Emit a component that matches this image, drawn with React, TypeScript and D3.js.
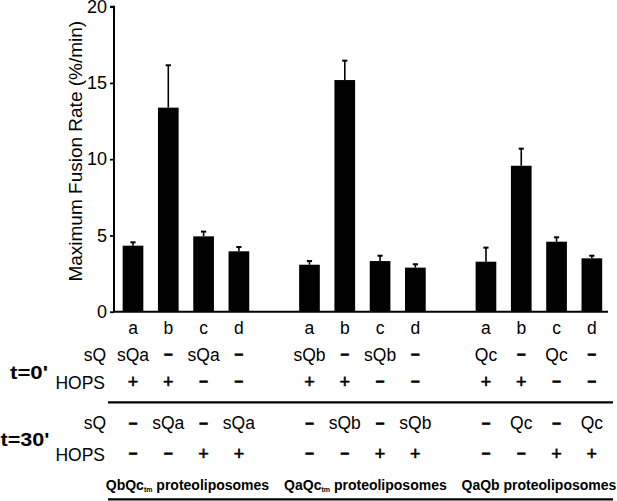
import React, { useEffect, useRef } from "react";
import * as d3 from "d3";

const groups = ["QbQc", "QaQc", "QaQb"];
const groupSub = ["tm", "tm", ""];
const letters = ["a", "b", "c", "d"];
const values = [4.33, 13.38, 4.94, 3.96, 3.08, 15.19, 3.32, 2.89, 3.28, 9.57, 4.59, 3.5];
const sems = [0.22, 2.78, 0.31, 0.28, 0.24, 1.27, 0.35, 0.22, 0.92, 1.12, 0.29, 0.17];
const yTicks = [0, 5, 10, 15, 20];
const t0sQ = ["sQa", "-", "sQa", "-", "sQb", "-", "sQb", "-", "Qc", "-", "Qc", "-"];
const t0HOPS = ["+", "+", "-", "-", "+", "+", "-", "-", "+", "+", "-", "-"];
const t30sQ = ["-", "sQa", "-", "sQa", "-", "sQb", "-", "sQb", "-", "Qc", "-", "Qc"];
const t30HOPS = ["-", "-", "+", "+", "-", "-", "+", "+", "-", "-", "+", "+"];

const FONT = "'Liberation Sans', Arial, Helvetica, sans-serif";
const W = 617;
const H = 501;

const slotOf = (i: number) => Math.floor(i / 4) * 5 + (i % 4);

export default function App() {
  const axisRef = useRef<SVGGElement>(null);

  const x = d3
    .scaleBand<number>()
    .domain(d3.range(14))
    .range([115.35, 609.5])
    .paddingInner(0.414)
    .paddingOuter(0.207);
  const y = d3.scaleLinear().domain([0, 20]).range([311.7, 6.7]);

  useEffect(() => {
    if (!axisRef.current) return;
    const g = d3.select(axisRef.current);
    g.selectAll("*").remove();
    g.call(
      d3
        .axisLeft(y)
        .tickValues(yTicks)
        .tickSize(4)
        .tickPadding(3)
        .tickFormat(d3.format("d"))
    );
    g.select(".domain").attr("stroke-width", 2).attr("d", `M-4,${y(20)}H0V${y(0)}`);
    g.selectAll(".tick line").attr("stroke-width", 1.8);
    g.selectAll(".tick text")
      .attr("font-size", 18)
      .attr("font-family", FONT)
      .attr("fill", "#000");
  }, []);

  const cx = (i: number) => (x(slotOf(i)) as number) + x.bandwidth() / 2;

  const renderRow = (vals: string[], baseline: number, center: number, key: string) =>
    vals.map((v, i) =>
      v === "-" ? (
        <text
          key={key + i}
          x={cx(i)}
          y={center + 4.3}
          textAnchor="middle"
          fontSize={15.5}
          fontWeight="bold"
          stroke="#000"
          strokeWidth={0.7}
        >
          –
        </text>
      ) : v === "+" ? (
        <text
          key={key + i}
          x={cx(i)}
          y={center + 6.4}
          textAnchor="middle"
          fontSize={18}
          stroke="#000"
          strokeWidth={0.6}
        >
          +
        </text>
      ) : (
        <text key={key + i} x={cx(i)} y={baseline} textAnchor="middle" fontSize={17.5}>
          {v}
        </text>
      )
    );

  return (
    <svg
      width={W}
      height={H}
      style={{ position: "absolute", left: 0, top: 0, background: "#fff" }}
      fontFamily={FONT}
      fill="#000"
    >
      {/* bars */}
      {values.map((v, i) => (
        <rect
          key={"bar" + i}
          x={x(slotOf(i))}
          y={y(v)}
          width={x.bandwidth()}
          height={y(0) - y(v)}
          fill="#000"
        />
      ))}
      {/* error bars */}
      {values.map((v, i) => (
        <g key={"err" + i} stroke="#000">
          <line x1={cx(i)} x2={cx(i)} y1={y(v)} y2={y(v + sems[i])} strokeWidth={1.6} />
          <line
            x1={cx(i) - 2.6}
            x2={cx(i) + 2.6}
            y1={y(v + sems[i])}
            y2={y(v + sems[i])}
            strokeWidth={2}
          />
        </g>
      ))}
      {/* x axis line */}
      <line x1={114} x2={608} y1={y(0)} y2={y(0)} stroke="#000" strokeWidth={2} />
      <g ref={axisRef} transform="translate(114,0)" />
      {/* y label */}
      <text
        transform={`translate(81.5,${(y(0) + y(20)) / 2 - 8}) rotate(-90)`}
        textAnchor="middle"
        fontSize={19}
      >
        Maximum Fusion Rate (%/min)
      </text>

      {/* category letters */}
      {values.map((_, i) => (
        <text key={"l" + i} x={cx(i)} y={334} textAnchor="middle" fontSize={17.5}>
          {letters[i % 4]}
        </text>
      ))}

      {/* row labels */}
      <text x={10} y={378.5} fontSize={18} fontWeight="bold" textLength={38} lengthAdjust="spacingAndGlyphs">
        t=0'
      </text>
      <text x={0.5} y={446} fontSize={18} fontWeight="bold" textLength={49} lengthAdjust="spacingAndGlyphs">
        t=30'
      </text>
      <text x={106} y={361} textAnchor="end" fontSize={17.5}>sQ</text>
      <text x={105} y={389} textAnchor="end" fontSize={17.5}>HOPS</text>
      <text x={106} y={429} textAnchor="end" fontSize={17.5}>sQ</text>
      <text x={105} y={460.5} textAnchor="end" fontSize={17.5}>HOPS</text>

      {renderRow(t0sQ, 361, 355, "a")}
      {renderRow(t0HOPS, 389, 381.6, "b")}
      {renderRow(t30sQ, 429, 423.3, "c")}
      {renderRow(t30HOPS, 460.5, 454, "d")}

      <line x1={108} x2={613} y1={402.3} y2={402.3} stroke="#000" strokeWidth={2.2} />
      <line x1={108} x2={613} y1={499.3} y2={499.3} stroke="#000" strokeWidth={2.2} />

      {/* group labels */}
      {groups.map((gName, gi) => {
        const c = (cx(gi * 4) + cx(gi * 4 + 3)) / 2 + (gi === 0 ? 1.5 : gi === 1 ? 3 : 0);
        return (
          <text key={"g" + gi} x={c} y={490} textAnchor="middle" fontSize={14} fontWeight="bold">
            {gName}
            {groupSub[gi] ? (
              <tspan fontSize={7} dy={2}>
                {groupSub[gi]}
              </tspan>
            ) : null}
            <tspan dy={groupSub[gi] ? -2 : 0}> proteoliposomes</tspan>
          </text>
        );
      })}
    </svg>
  );
}
